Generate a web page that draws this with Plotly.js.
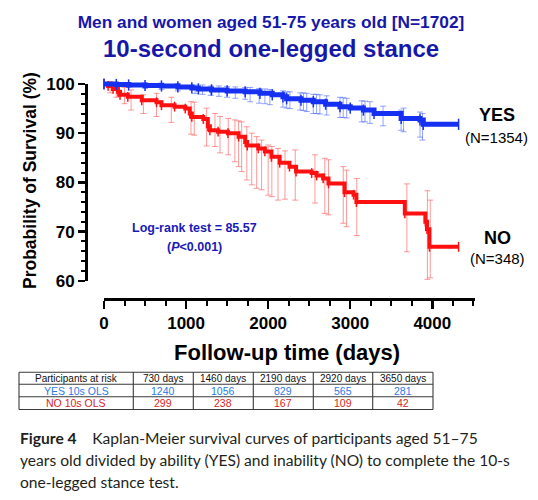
<!DOCTYPE html>
<html><head><meta charset="utf-8">
<script src="https://cdn.plot.ly/plotly-3.0.1.min.js"></script>
<style>html,body{margin:0;padding:0;background:#fff;} #chart{width:538px;height:500px;}</style>
</head><body><div id="chart"></div>
<script>
// ---------- data ----------
const yesDays = [0,150,300,500,700,900,1070,1150,1310,1500,1720,1900,2050,2180,2225,2400,2550,2700,2875,3000,3160,3290,3620,3850,3890,4320];
const yesSurv = [100,99.9,99.8,99.7,99.6,99.4,99.2,99.0,98.8,98.6,98.4,98.1,97.8,97.4,97.0,96.7,96.4,95.9,95.4,95.1,94.7,94.0,93.0,92.7,91.8,91.8];
const noDays = [0,50,110,170,195,290,460,640,700,860,990,1045,1070,1210,1265,1290,1390,1510,1640,1720,1745,1880,1960,2040,2140,2260,2340,2530,2590,2670,2735,2930,3040,3075,3665,3915,3935,3965,4320];
const noSurv = [100,99.6,99.0,98.4,97.8,97.4,96.7,96.3,95.7,95.4,95.0,94.0,93.3,92.9,91.4,90.6,90.3,90.0,89.3,88.2,87.5,86.9,86.3,85.2,84.0,83.2,82.2,81.9,81.4,80.8,79.8,78.0,77.5,76.0,73.7,72.0,70.5,66.9,66.9];

// 95% CI bars
const noCiDays = [75,150,250,330,480,640,820,1060,1100,1250,1352,1413,1514,1595,1640,1677,1740,1800,1860,1920,2000,2045,2120,2205,2330,2570,2690,2735,2915,2955,3080,3690,3940,3975];
const noCiLow  = [98.2,97.3,96.0,94.7,94.0,93.4,92.2,89.8,89.6,87.4,87.3,86.0,85.6,84.2,83.2,82.2,80.5,79.5,78.8,78.5,77.4,77.1,76.4,76.6,76.4,75.8,73.7,73.4,71.7,71.0,69.2,65.9,60.3,60.6];
const noCiHigh = [100.5,100.3,99.3,98.8,97.8,98.1,97.3,96.4,96.3,95.1,94.0,93.4,93.0,92.7,92.5,92.3,91.3,90.0,89.3,88.6,87.6,87.3,86.9,86.4,86.6,85.6,84.9,84.6,83.2,82.5,80.8,79.7,78.3,76.4];

const yesCiDays = [300,500,700,900,1110,1200,1300,1400,1500,1600,1720,1780,1890,1960,2020,2180,2225,2265,2390,2430,2470,2550,2590,2630,2713,2875,2915,2957,3140,3180,3240,3400,3620,3650,3850,3880];
const yesCiLow  = [99.3,99.1,98.9,98.6,98.1,97.9,97.7,97.5,97.3,97.1,96.9,96.4,96.1,96.0,95.8,95.3,95.1,95.0,94.7,94.6,94.4,94.0,94.0,93.9,93.7,93.2,93.2,93.1,92.3,92.3,92.0,91.5,90.6,90.3,89.2,88.6];
const yesCiHigh = [100.3,100.2,100.2,100.1,99.8,99.8,99.6,99.6,99.5,99.4,99.3,99.3,99.1,99.0,98.9,98.6,98.4,98.4,98.2,98.2,98.1,97.9,97.9,97.8,97.6,97.3,97.2,97.1,96.6,96.5,96.4,95.5,94.7,95.1,94.3,94.0];

// risk table
const riskHeader = ['Participants at risk','730 days','1460 days','2190 days','2920 days','3650 days'];
const riskRowLabels = ['YES 10s OLS','NO 10s OLS'];
const riskYes = [1240,1056,829,565,281];
const riskNo  = [299,238,167,109,42];

// ---------- layout constants ----------
const W = 538, H = 500;
const PX_X0 = 104, PX_PER_DAY = 0.08208;   // x=0 at 104px
const PX_Y100 = 84, PX_PER_PCT = 4.92;     // y=100 at 84px
const px = v => v / W, py = v => 1 - v / H;
const FONT = 'Liberation Sans, Arial, sans-serif';
const BLUE = '#1530f0', RED = '#ff1010';
const TBLUE = '#1717a8';

function stepAt(ts, vs, t){ let v = vs[0]; for (let i=0;i<ts.length;i++){ if (ts[i] <= t) v = vs[i]; } return v; }
function ciTrace(days, lo, hi, ts, vs, color){
  const mid = days.map(d => stepAt(ts, vs, d));
  return {
    x: days, y: mid, type: 'scatter', mode: 'markers',
    marker: {size: 1, color: 'rgba(0,0,0,0)'},
    error_y: {type: 'data', symmetric: false,
      array: hi.map((h,i) => Math.max(0, h - mid[i])),
      arrayminus: lo.map((l,i) => Math.max(0, mid[i] - l)),
      color: color, thickness: 1, width: 3},
    hoverinfo: 'skip', showlegend: false
  };
}

const traces = [
  ciTrace(yesCiDays, yesCiLow, yesCiHigh, yesDays, yesSurv, 'rgba(60,90,255,0.55)'),
  ciTrace(noCiDays, noCiLow, noCiHigh, noDays, noSurv, 'rgba(255,70,70,0.55)'),
  {x: noDays, y: noSurv, type: 'scatter', mode: 'lines+markers', line: {shape: 'hv', color: RED, width: 4},
   marker: {symbol: 'line-ns-open', size: 7, line: {width: 1.5, color: RED}}, hoverinfo: 'skip', showlegend: false},
  {x: yesDays, y: yesSurv, type: 'scatter', mode: 'lines+markers', line: {shape: 'hv', color: BLUE, width: 5},
   marker: {symbol: 'line-ns-open', size: 8, line: {width: 1.5, color: BLUE}}, hoverinfo: 'skip', showlegend: false},
  // anchor trace for the displayed axes
  {x: [0], y: [60], xaxis: 'x2', yaxis: 'y2', type: 'scatter', mode: 'markers', marker: {opacity: 0}, hoverinfo: 'skip', showlegend: false}
];

const ann = (x, y, text, size, color, extra) => Object.assign({
  x: px(x), y: py(y), xref: 'paper', yref: 'paper', text: text, showarrow: false,
  xanchor: 'center', yanchor: 'middle', font: {family: FONT, size: size, color: color}
}, extra || {});

// ---------- risk table (grid shapes + cell text) ----------
const colEdges = [19, 133.3, 193.3, 253.3, 313.3, 372.7, 433];
const rowEdges = [372.3, 384.3, 396.8, 409.5];
const tableRows = [riskHeader, [riskRowLabels[0]].concat(riskYes), [riskRowLabels[1]].concat(riskNo)];
const rowColors = ['#111111', '#2c7be5', '#d81e1e'];
const rowSizes = [10, 10.5, 10.5];
const tableShapes = [];
colEdges.forEach(cx => tableShapes.push({type: 'line', xref: 'paper', yref: 'paper',
  x0: px(cx), x1: px(cx), y0: py(rowEdges[0]), y1: py(rowEdges[rowEdges.length - 1]), line: {color: '#3a3a3a', width: 1.1}}));
rowEdges.forEach(ry => tableShapes.push({type: 'line', xref: 'paper', yref: 'paper',
  x0: px(colEdges[0]), x1: px(colEdges[colEdges.length - 1]), y0: py(ry), y1: py(ry), line: {color: '#3a3a3a', width: 1.1}}));
const tableAnns = [];
tableRows.forEach((row, r) => row.forEach((val, c) => {
  tableAnns.push(ann((colEdges[c] + colEdges[c + 1]) / 2, (rowEdges[r] + rowEdges[r + 1]) / 2 + 0.3, String(val), rowSizes[r], rowColors[r]));
}));

const CAPFONT = 'Lato, Open Sans, sans-serif';
const capFont = {family: CAPFONT, size: 15.6, color: '#231f20'};
const layout = {
  width: W, height: H,
  margin: {l: 0, r: 0, t: 0, b: 0, pad: 0},
  paper_bgcolor: 'white', plot_bgcolor: 'rgba(0,0,0,0)',
  showlegend: false,
  title: {text: '<b>Men and women aged 51-75 years old [N=1702]</b>',
    font: {family: FONT, size: 17.3, color: TBLUE},
    x: px(271), xanchor: 'center', xref: 'paper', y: py(22), yanchor: 'middle', yref: 'container'},
  xaxis: {visible: false, domain: [0, 1], range: [-PX_X0 / PX_PER_DAY, (W - PX_X0) / PX_PER_DAY], fixedrange: true},
  yaxis: {visible: false, domain: [0, 1], range: [100 - (H - PX_Y100) / PX_PER_PCT, 100 + PX_Y100 / PX_PER_PCT], fixedrange: true},
  xaxis2: {domain: [px(104), px(475)], range: [0, (475 - PX_X0) / PX_PER_DAY], anchor: 'free', position: py(299.3),
    showline: true, linecolor: '#000', linewidth: 2.5, ticks: 'outside', ticklen: 8, tickwidth: 2.5, tickcolor: '#000',
    tick0: 0, dtick: 1000, minor: {dtick: 250, ticklen: 5, tickwidth: 2, ticks: 'outside', tickcolor: '#000', showgrid: false},
    tickfont: {family: FONT, size: 17, color: '#000', weight: 'bold'},
    showgrid: false, zeroline: false, fixedrange: true},
  yaxis2: {domain: [py(280.8), py(84)], range: [60, 100], anchor: 'free', position: px(86), side: 'left',
    showline: true, linecolor: '#000', linewidth: 2.5, ticks: 'outside', ticklen: 7, tickwidth: 2.5, tickcolor: '#000',
    tick0: 60, dtick: 10, minor: {dtick: 2, ticklen: 4, tickwidth: 2, ticks: 'outside', tickcolor: '#000', showgrid: false},
    tickfont: {family: FONT, size: 17, color: '#000', weight: 'bold'},
    showgrid: false, zeroline: false, fixedrange: true},
  shapes: tableShapes,
  annotations: [
    ann(271, 49, '<b>10-second one-legged stance</b>', 24, TBLUE),
    ann(30, 181, '<b>Probability of Survival (%)</b>', 17.5, '#000', {textangle: -90}),
    ann(287, 352, '<b>Follow-up time (days)</b>', 22, '#000'),
    ann(194, 228, '<b>Log-rank test = 85.57</b>', 12.5, '#1a1ab8'),
    ann(194, 247, '<b>(<i>P</i>&lt;0.001)</b>', 12.5, '#1a1ab8'),
    ann(497, 115, '<b>YES</b>', 18, '#000'),
    ann(496, 137, '(N=1354)', 15, '#000'),
    ann(497, 238, '<b>NO</b>', 18, '#000'),
    ann(497, 258, '(N=348)', 15, '#000'),
    ann(18, 438, '<b>Figure 4</b>\u2003 Kaplan-Meier survival curves of participants aged 51\u201375', 16, '#231f20', {xanchor: 'left', font: capFont}),
    ann(18, 460, 'years old divided by ability (YES) and inability (NO) to complete the 10-s', 16, '#231f20', {xanchor: 'left', font: capFont}),
    ann(18, 482, 'one-legged stance test.', 16, '#231f20', {xanchor: 'left', font: capFont})
  ].concat(tableAnns)
};

Plotly.newPlot('chart', traces, layout, {staticPlot: true, displayModeBar: false});
</script></body></html>
